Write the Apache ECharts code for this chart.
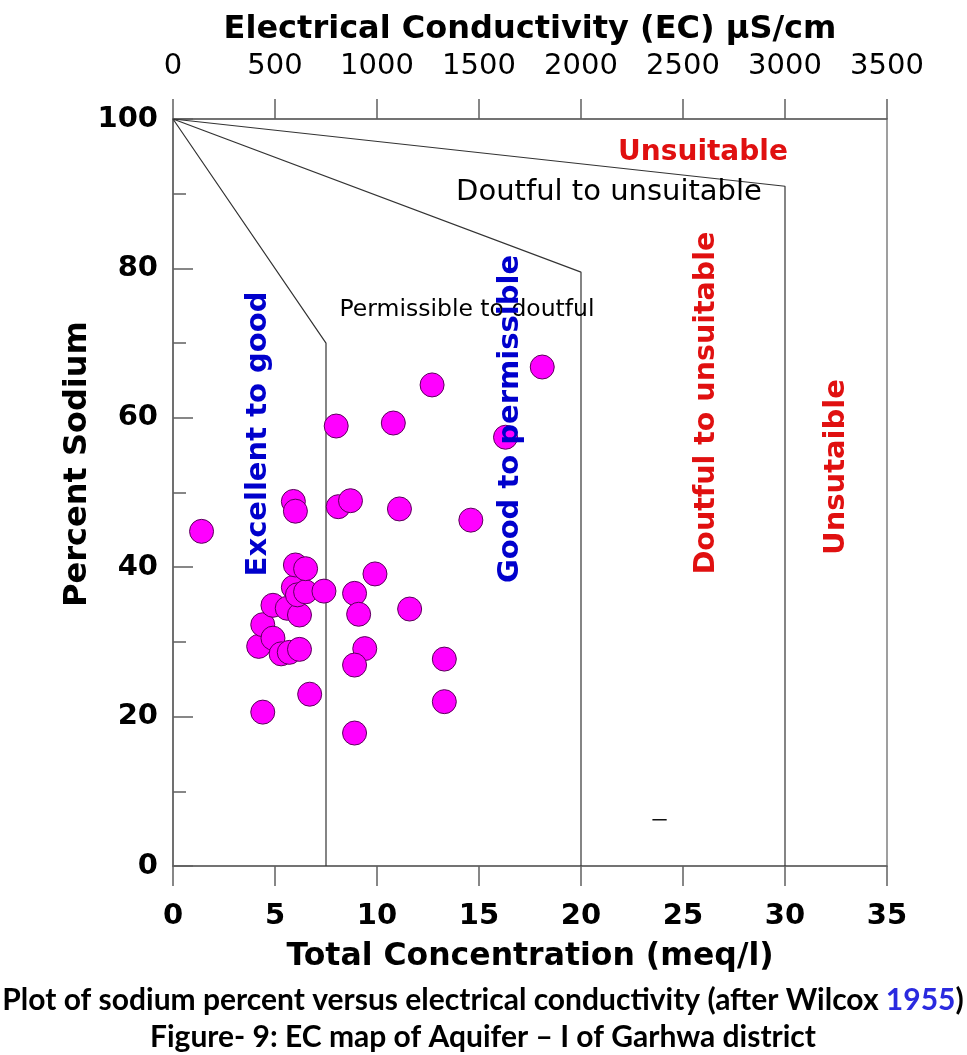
<!DOCTYPE html>
<html>
<head>
<meta charset="utf-8">
<script src="https://cdn.jsdelivr.net/npm/echarts@6/dist/echarts.min.js"></script>
<style>
  html, body { margin: 0; padding: 0; background: #fff; }
  #chart { width: 967px; height: 1055px; }
</style>
</head>
<body>
<div id="chart"></div>
<script>
// sample points: [total concentration (meq/l), percent sodium]
const samples = [
  [1.4, 44.8], [4.4, 20.6], [4.2, 29.4], [4.4, 32.3], [4.9, 30.5],
  [4.9, 34.9], [5.3, 28.4], [5.6, 34.5], [5.7, 28.6], [6.2, 29.0],
  [6.2, 33.6], [5.9, 37.3], [6.1, 36.3], [6.5, 36.7], [6.0, 40.3],
  [6.5, 39.8], [5.9, 48.8], [6.0, 47.5], [6.7, 23.0], [7.4, 36.8],
  [8.0, 58.9], [8.1, 48.1], [8.7, 48.9], [8.9, 36.5], [9.1, 33.7],
  [9.4, 29.1], [8.9, 26.9], [8.9, 17.8], [9.9, 39.1], [10.8, 59.3],
  [11.1, 47.8], [11.6, 34.4], [12.7, 64.4], [13.3, 27.7], [13.3, 22.0],
  [14.6, 46.3], [16.3, 57.4], [18.1, 66.8]
];

// Wilcox class boundaries
const lineExcellent = [[0, 100], [7.5, 70], [7.5, 0]];
const lineGood = [[0, 100], [20, 79.5], [20, 0]];
const lineDoubtful = [[0, 100], [30, 91], [30, 0]];
const strayDash = [[23.5, 6.2], [24.2, 6.2]];

// axis ranges [min, max, step]
const concRange = [0, 35, 5];
const ecRange = [0, 3500, 500];
const sodiumRange = [0, 100, 20];

const FONT = '"DejaVu Sans", sans-serif';
const CAPTION_FONT = 'Lato, sans-serif';
const axisGray = '#606060';

const chart = echarts.init(document.getElementById('chart'));

const boundaryLine = data => ({
  type: 'line',
  data: data,
  xAxisIndex: 0,
  yAxisIndex: 0,
  symbol: 'none',
  silent: true,
  z: 1,
  lineStyle: { color: '#333', width: 1.2 }
});

const zoneText = (text, x, y, color, size, weight, vertical) => ({
  type: 'text',
  x: x,
  y: y,
  rotation: vertical ? Math.PI / 2 : 0,
  z: 10,
  style: {
    text: text,
    fill: color,
    fontSize: size,
    fontWeight: weight,
    fontFamily: FONT,
    align: 'center',
    verticalAlign: 'middle'
  }
});

const option = {
  animation: false,
  backgroundColor: '#fff',
  grid: {
    left: 173, right: 80, top: 119, bottom: 189,
    show: true, borderColor: axisGray, borderWidth: 1.2
  },
  xAxis: [
    {
      type: 'value', position: 'bottom',
      min: concRange[0], max: concRange[1], interval: concRange[2],
      name: 'Total Concentration (meq/l)',
      nameLocation: 'middle', nameGap: 75,
      nameTextStyle: { color: '#000', fontSize: 31.5, fontWeight: 'bold', fontFamily: FONT },
      axisLine: { lineStyle: { color: axisGray, width: 1.5 } },
      axisTick: { inside: false, length: 20, lineStyle: { color: axisGray, width: 1.5 } },
      axisLabel: { color: '#000', fontSize: 29, fontWeight: 'bold', fontFamily: FONT, margin: 36, showMinLabel: true, showMaxLabel: true },
      splitLine: { show: false }
    },
    {
      type: 'value', position: 'top',
      min: ecRange[0], max: ecRange[1], interval: ecRange[2],
      name: 'Electrical Conductivity (EC) µS/cm',
      nameLocation: 'middle', nameGap: 73,
      nameTextStyle: { color: '#000', fontSize: 32, fontWeight: 'bold', fontFamily: FONT },
      axisLine: { lineStyle: { color: axisGray, width: 1.5 } },
      axisTick: { inside: false, length: 20, lineStyle: { color: axisGray, width: 1.5 } },
      axisLabel: {
        color: '#000', fontSize: 29, fontFamily: FONT, margin: 38,
        showMinLabel: true, showMaxLabel: true,
        formatter: v => String(v)
      },
      splitLine: { show: false }
    }
  ],
  yAxis: {
    type: 'value',
    min: sodiumRange[0], max: sodiumRange[1], interval: sodiumRange[2],
    axisLine: { show: true, lineStyle: { color: axisGray, width: 1.5 } },
    axisTick: { inside: true, length: 20, lineStyle: { color: axisGray, width: 1.5 } },
    minorTick: { show: true, splitNumber: 2, length: 13, lineStyle: { color: axisGray, width: 1.5 } },
    axisLabel: { color: '#000', fontSize: 29, fontWeight: 'bold', fontFamily: FONT, margin: 15 },
    splitLine: { show: false }
  },
  series: [
    boundaryLine(lineExcellent),
    boundaryLine(lineGood),
    boundaryLine(lineDoubtful),
    {
      type: 'line', data: strayDash, symbol: 'none', silent: true,
      lineStyle: { color: '#111', width: 1.5 }
    },
    {
      type: 'scatter',
      data: samples,
      symbol: 'circle',
      symbolSize: 24,
      z: 5,
      itemStyle: { color: '#ff00ff', borderColor: '#5a005a', borderWidth: 1, opacity: 1 }
    }
  ],
  graphic: [
    // y axis title sits above the axis middle in the original
    zoneText('Percent Sodium', 78, 464, '#000', 32, 'bold', true),
    zoneText('Unsuitable', 703, 153, '#e01010', 28, 'bold', false),
    zoneText('Doutful to unsuitable', 609, 192, '#000', 29, 'normal', false),
    zoneText('Permissible to doutful', 467, 310, '#000', 23.5, 'normal', false),
    zoneText('Excellent to good', 258, 434, '#0000cc', 29, 'bold', true),
    zoneText('Good to permissible', 510, 419, '#0000cc', 29, 'bold', true),
    zoneText('Doutful to unsuitable', 707, 403, '#e01010', 28.5, 'bold', true),
    zoneText('Unsutaible', 836, 467, '#e01010', 29, 'bold', true),
    {
      type: 'text', x: 483, y: 1000, z: 10,
      style: {
        text: '{a|Plot of sodium percent versus electrical conductivity (after Wilcox }{b|1955}{a|)}',
        align: 'center', verticalAlign: 'middle',
        fontSize: 30, fontWeight: 'bold', fontFamily: CAPTION_FONT,
        rich: {
          a: { fill: '#000', fontSize: 30, fontWeight: 'bold', fontFamily: CAPTION_FONT },
          b: { fill: '#2a2adf', fontSize: 30, fontWeight: 'bold', fontFamily: CAPTION_FONT }
        }
      }
    },
    {
      type: 'text', x: 483, y: 1037, z: 10,
      style: {
        text: 'Figure- 9: EC map of Aquifer – I of Garhwa district',
        fill: '#000', align: 'center', verticalAlign: 'middle',
        fontSize: 30, fontWeight: 'bold', fontFamily: CAPTION_FONT
      }
    }
  ]
};

chart.setOption(option);
</script>
</body>
</html>
